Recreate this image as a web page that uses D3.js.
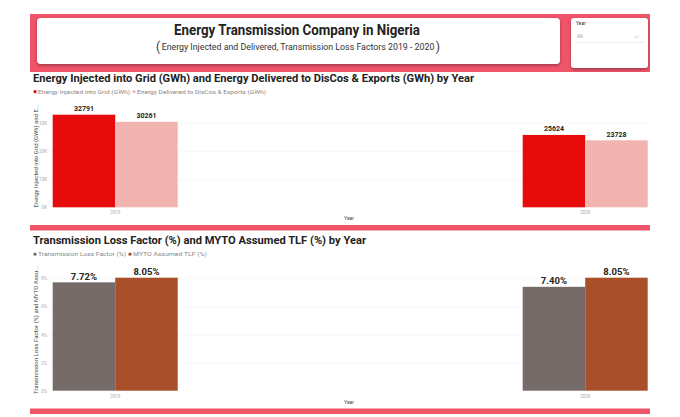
<!DOCTYPE html>
<html>
<head>
<meta charset="utf-8">
<script src="https://cdn.jsdelivr.net/npm/d3@7"></script>
<style>
    body { margin: 0; background: #fff; }
    text { font-family: Roboto, "Liberation Sans", sans-serif; }
</style>
</head>
<body>
<div id="chart"></div>
<script>
`use strict`

// whole svg
const SVG_WIDTH = 680;
const SVG_HEIGHT = 417;
const BAND_COLOR = '#F05468';
const NARROW_FONT = '"Liberation Sans Narrow", Roboto, sans-serif';

// data
const years = ['2019', '2020'];
const injected = [32791, 25624];
const delivered = [30261, 23728];
const energy_ticks = [0, 10000, 20000, 30000];
const tlf = [7.72, 7.40];
const myto = [8.05, 8.05];
const tlf_ticks = [0, 2, 4, 6, 8];

const svg = d3.select('#chart')
    .append('svg')
    .attr('width', SVG_WIDTH)
    .attr('height', SVG_HEIGHT)
;

const defs = svg.append('defs');
const shadow = defs.append('filter')
    .attr('id', 'shadow')
    .attr('x', '-5%').attr('y', '-20%')
    .attr('width', '110%').attr('height', '150%')
;
shadow.append('feDropShadow')
    .attr('dx', 0).attr('dy', 1.5)
    .attr('stdDeviation', 1.5)
    .attr('flood-color', '#000')
    .attr('flood-opacity', 0.35)
;

// header
svg.append('rect')
    .attr('x', 30).attr('y', 14)
    .attr('width', 620).attr('height', 58)
    .attr('fill', BAND_COLOR)
;
svg.append('rect')
    .attr('x', 37).attr('y', 18)
    .attr('width', 523).attr('height', 46)
    .attr('rx', 4)
    .attr('fill', '#fff')
    .attr('filter', 'url(#shadow)')
;
svg.append('text')
    .text('Energy Transmission Company in Nigeria')
    .attr('x', 297).attr('y', 34.5)
    .attr('text-anchor', 'middle')
    .attr('font-family', NARROW_FONT)
    .attr('font-size', 14.5)
    .attr('font-weight', 'bold')
    .attr('textLength', 246)
    .attr('lengthAdjust', 'spacingAndGlyphs')
    .attr('fill', '#222')
;
// subtitle with large brackets, brackets placed from the measured width
const sub = svg.append('text')
    .text('Energy Injected and Delivered, Transmission Loss Factors 2019 - 2020')
    .attr('x', 298).attr('y', 50)
    .attr('text-anchor', 'middle')
    .attr('font-family', NARROW_FONT)
    .attr('font-size', 8.8)
    .attr('fill', '#333')
;
const sub_w = sub.node().getComputedTextLength();
svg.append('text')
    .text('(')
    .attr('x', 298 - sub_w / 2 - 1.5).attr('y', 50.5)
    .attr('text-anchor', 'end')
    .attr('font-family', NARROW_FONT)
    .attr('font-size', 12)
    .attr('fill', '#333')
;
svg.append('text')
    .text(')')
    .attr('x', 298 + sub_w / 2 + 1.5).attr('y', 50.5)
    .attr('font-family', NARROW_FONT)
    .attr('font-size', 12)
    .attr('fill', '#333')
;

// year slicer
svg.append('rect')
    .attr('x', 571).attr('y', 18)
    .attr('width', 77).attr('height', 50)
    .attr('rx', 3)
    .attr('fill', '#fff')
    .attr('filter', 'url(#shadow)')
;
svg.append('text')
    .text('Year')
    .attr('x', 576).attr('y', 25)
    .attr('font-size', 5)
    .attr('fill', '#333')
;
svg.append('text')
    .text('All')
    .attr('x', 577).attr('y', 38)
    .attr('font-size', 5)
    .attr('fill', '#999')
;
svg.append('line')
    .attr('x1', 575).attr('x2', 644)
    .attr('y1', 42.5).attr('y2', 42.5)
    .attr('stroke', '#eee')
;
svg.append('path')
    .attr('d', 'M634,35.5 L636.5,38 L639,35.5')
    .attr('fill', 'none')
    .attr('stroke', '#aaa')
    .attr('stroke-width', 0.6)
;

// one clustered bar chart
function draw_chart(cfg)
{
    const g = svg.append('g').attr('class', cfg.name);

    // section title
    g.append('text')
        .text(cfg.title)
        .attr('x', 33).attr('y', cfg.title_y)
        .attr('font-size', 11)
        .attr('font-weight', 'bold')
        .attr('textLength', cfg.title_len)
        .attr('lengthAdjust', 'spacingAndGlyphs')
        .attr('fill', '#222')
    ;

    // legend
    let lx = 35;
    cfg.series.forEach((s, i) => {
        g.append('circle')
            .attr('cx', lx).attr('cy', cfg.legend_y - 1.8)
            .attr('r', 1.6)
            .attr('fill', s.color)
        ;
        g.append('text')
            .text(s.name)
            .attr('x', lx + 3).attr('y', cfg.legend_y)
            .attr('font-size', cfg.legend_size)
            .attr('textLength', s.legend_len)
            .attr('lengthAdjust', 'spacingAndGlyphs')
            .attr('fill', '#888')
        ;
        lx += s.legend_len + 7;
    });

    const x = d3.scaleBand()
        .domain(years)
        .range([52.7, 647.7])
        .paddingInner(0.734)
        .paddingOuter(0)
    ;
    const x_inner = d3.scaleBand()
        .domain(cfg.series.map(s => s.name))
        .range([0, x.bandwidth()])
    ;
    const y = d3.scaleLinear()
        .domain([0, cfg.y_max])
        .range([cfg.bottom, cfg.top])
    ;

    // grid
    g.append('g')
        .selectAll('line')
        .data(cfg.ticks.slice(1))
        .join('line')
        .attr('x1', 48).attr('x2', 650)
        .attr('y1', d => y(d) + 0.5).attr('y2', d => y(d) + 0.5)
        .attr('stroke', '#f1f1f1')
        .attr('stroke-dasharray', '1,1')
    ;

    // y axis
    const y_axis = g.append('g')
        .attr('transform', `translate(47,0)`)
        .call(d3.axisLeft(y).tickValues(cfg.ticks).tickFormat(cfg.tick_format).tickSize(0).tickPadding(0))
    ;
    y_axis.select('.domain').remove();
    y_axis.selectAll('text')
        .attr('font-size', 4.5)
        .attr('fill', '#aaa')
    ;

    // y axis title
    g.append('text')
        .text(cfg.y_title)
        .attr('transform', `translate(37.5,${cfg.y_title_mid}) rotate(-90)`)
        .attr('text-anchor', 'middle')
        .attr('font-size', 5)
        .attr('textLength', cfg.y_title_len)
        .attr('lengthAdjust', 'spacingAndGlyphs')
        .attr('fill', '#444')
    ;

    // bars
    const groups = g.append('g')
        .selectAll('g')
        .data(years)
        .join('g')
        .attr('transform', d => `translate(${x(d)},0)`)
    ;
    cfg.series.forEach(s => {
        groups.append('rect')
            .attr('x', x_inner(s.name))
            .attr('y', (d, i) => y(s.values[i]))
            .attr('width', x_inner.bandwidth())
            .attr('height', (d, i) => y(0) - y(s.values[i]))
            .attr('fill', s.color)
        ;
        groups.append('text')
            .text((d, i) => cfg.label_format(s.values[i]))
            .attr('x', x_inner(s.name) + x_inner.bandwidth() / 2)
            .attr('y', (d, i) => y(s.values[i]) - cfg.label_gap)
            .attr('text-anchor', 'middle')
            .attr('font-size', cfg.label_size)
            .attr('font-weight', 'bold')
            .attr('fill', '#252423')
        ;
    });

    // x axis
    const x_axis = g.append('g')
        .attr('transform', `translate(0,${cfg.bottom})`)
        .call(d3.axisBottom(x).tickSize(0).tickPadding(4))
    ;
    x_axis.select('.domain').remove();
    x_axis.selectAll('text')
        .attr('font-size', 4.5)
        .attr('fill', '#aaa')
    ;
    g.append('text')
        .text('Year')
        .attr('x', 349).attr('y', cfg.bottom + 13)
        .attr('text-anchor', 'middle')
        .attr('font-size', 5)
        .attr('fill', '#444')
    ;

    // separator band
    g.append('rect')
        .attr('x', 30).attr('y', cfg.band_y)
        .attr('width', 620).attr('height', 5.5)
        .attr('fill', BAND_COLOR)
    ;
}

draw_chart({
    name: 'energy',
    title: 'Energy Injected into Grid (GWh) and Energy Delivered to DisCos & Exports (GWh) by Year',
    title_y: 82,
    title_len: 441,
    legend_y: 93.5,
    legend_size: 5,
    series: [
        {name: 'Energy Injected into Grid (GWh)', values: injected, color: '#E80B0B', legend_len: 92},
        {name: 'Energy Delivered to DisCos & Exports (GWh)', values: delivered, color: '#F2B4B1', legend_len: 129}
    ],
    y_max: d3.max(injected),
    top: 114.7,
    bottom: 207.3,
    ticks: energy_ticks,
    tick_format: d => (d / 1000) + 'K',
    y_title: 'Energy Injected into Grid (GWh) and E...',
    y_title_mid: 156,
    y_title_len: 103,
    label_format: d => d,
    label_size: 7,
    label_gap: 3.5,
    band_y: 225
});

draw_chart({
    name: 'loss',
    title: 'Transmission Loss Factor (%) and MYTO Assumed TLF (%) by Year',
    title_y: 244,
    title_len: 333,
    legend_y: 256,
    legend_size: 5.6,
    series: [
        {name: 'Transmission Loss Factor (%)', values: tlf, color: '#756B69', legend_len: 88},
        {name: 'MYTO Assumed TLF (%)', values: myto, color: '#A9502A', legend_len: 74}
    ],
    y_max: d3.max(myto),
    top: 277.7,
    bottom: 390.7,
    ticks: tlf_ticks,
    tick_format: d => d + '%',
    y_title: 'Transmission Loss Factor (%) and MYTO Assu...',
    y_title_mid: 330,
    y_title_len: 128,
    label_format: d => d.toFixed(2) + '%',
    label_size: 9.5,
    label_gap: 2.5,
    band_y: 408.5
});
</script>
</body>
</html>
